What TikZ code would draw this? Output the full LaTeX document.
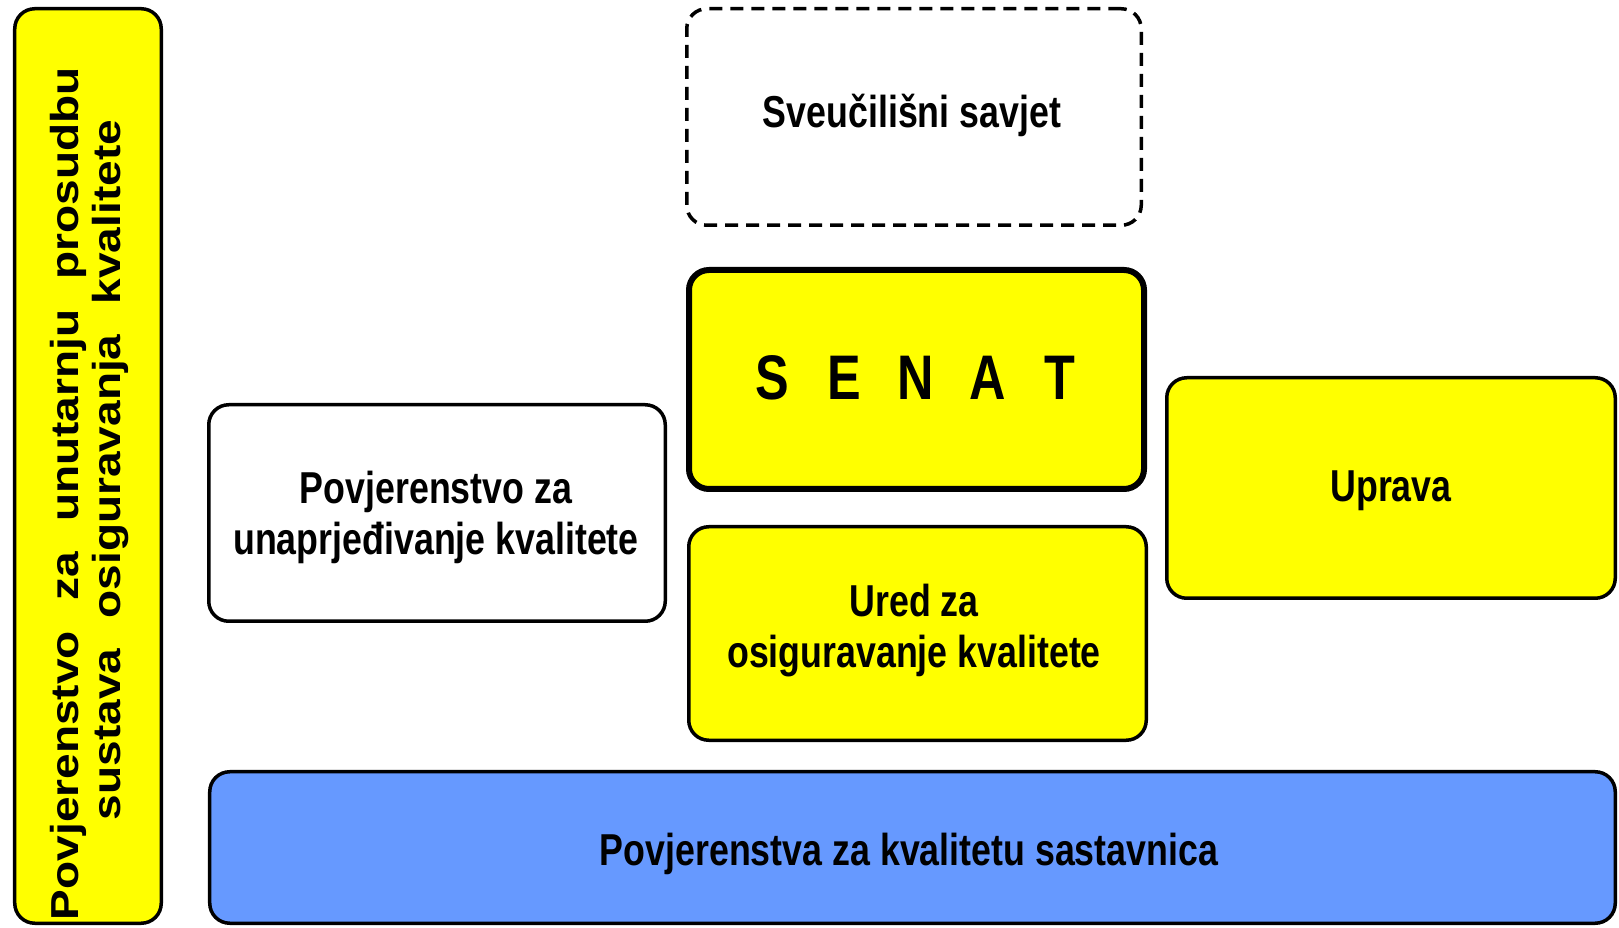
\documentclass[tikz,border=0pt]{standalone}
\usepackage{fontspec}
\setmainfont{Liberation Sans}
\newfontfamily\condfont[FakeStretch=0.8]{Liberation Sans}
\newfontfamily\vertfont[FakeStretch=1.18]{Liberation Sans}
\definecolor{boxyellow}{HTML}{FFFF00}
\definecolor{boxblue}{HTML}{6699FF}
\begin{document}
\begin{tikzpicture}[x=1bp,y=1bp,
  box/.style={draw=black, line width=3.5bp, rounded corners=20bp, inner sep=0pt, outer sep=0pt},
  yel/.style={box, fill=boxyellow},
  lbl/.style={inner sep=0pt, outer sep=0pt, anchor=base, align=center,
    font=\condfont\bfseries\fontsize{44.7bp}{51bp}\selectfont},
  vlbl/.style={inner sep=0pt, outer sep=0pt, anchor=base, rotate=90,
    font=\vertfont\bfseries\fontsize{39bp}{42bp}\selectfont},
]
\useasboundingbox (0,0) rectangle (1619,927);
\fill[white] (0,0) rectangle (1619,927);
% boxes
\node[yel, minimum width=146.5bp, minimum height=914.5bp] (left) at (88,461) {};
\node[box, dash pattern=on 13bp off 8bp, fill=white, minimum width=454.5bp, minimum height=216.5bp] (sav) at (914,810) {};
\node[yel, line width=6bp, minimum width=455bp, minimum height=219bp] (senat) at (916.5,547.5) {};
\node[box, fill=white, minimum width=456.5bp, minimum height=216.5bp] (pov) at (437,414) {};
\node[yel, minimum width=457.5bp, minimum height=213.5bp] (ured) at (917.5,293.5) {};
\node[yel, minimum width=448.5bp, minimum height=220.5bp] (uprava) at (1391,439) {};
\node[box, fill=boxblue, minimum width=1405.5bp, minimum height=151.5bp] (blue) at (912.5,79.5) {};
% texts
\node[lbl] (savt) at (912,799) {Sveučilišni savjet};
\node[lbl, font=\condfont\bfseries\fontsize{63bp}{63bp}\selectfont] (senatt) at (916,527)
  {\makebox[72bp]{S}\makebox[72bp]{E}\makebox[72bp]{N}\makebox[72bp]{A}\makebox[72bp]{T}};
\node[lbl] (povt) at (436,372) {Povjerenstvo za\\unaprjeđivanje kvalitete};
\node[lbl] (uredt) at (914,259) {Ured za\\osiguravanje kvalitete};
\node[lbl] (upravat) at (1391,425) {Uprava};
\node[lbl] (bluet) at (909,62) {Povjerenstva za kvalitetu sastavnica};
\node[vlbl] (leftt1) at (78,433.5) {\makebox[853bp][s]{Povjerenstvo\hfill za\hfill unutarnju\hfill prosudbu}};
\node[vlbl] (leftt2) at (120,457) {\makebox[700bp][s]{sustava\hfill osiguravanja\hfill kvalitete}};
\end{tikzpicture}
\end{document}
